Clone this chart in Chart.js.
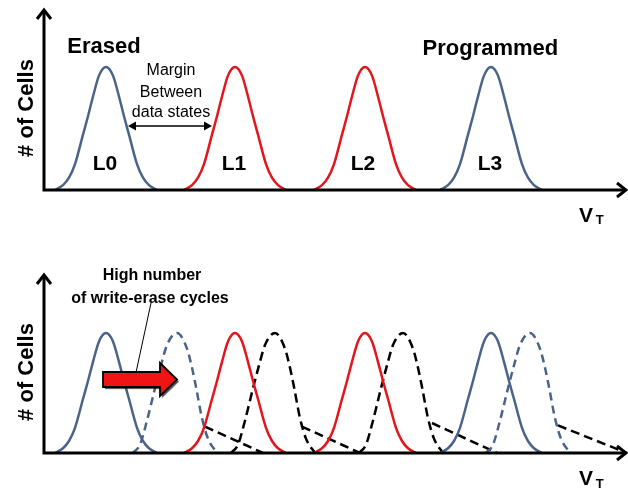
<!DOCTYPE html>
<html>
<head>
<meta charset="utf-8">
<script src="https://cdn.jsdelivr.net/npm/chart.js@4.4.0/dist/chart.umd.min.js"></script>
<style>
  html, body { margin: 0; padding: 0; background: #fff; }
  #wrap { position: relative; width: 628px; height: 489px; }
  canvas { position: absolute; left: 0; }
  #top { top: 0; }
  #bottom { top: 240px; }
</style>
</head>
<body>
<div id="wrap">
  <canvas id="top" width="628" height="240"></canvas>
  <canvas id="bottom" width="628" height="249"></canvas>
</div>
<script>
// V_T in arbitrary units (0..146), # of cells: peak = 100
const levelY = [0, 4, 10, 21, 45, 60, 76, 93, 100, 93, 76, 60, 45, 21, 10, 4, 0];
const l0X = [2.75, 4.75, 6.25, 7.75, 9.75, 11, 12.25, 13.75, 15.5, 17.25, 18.75, 20, 21.25, 23.25, 24.75, 26.25, 28.25];
const l1X = [35, 37, 38.5, 40, 42, 43.25, 44.5, 46, 47.75, 49.5, 51, 52.25, 53.5, 55.5, 57, 58.5, 60.5];
const l2X = [67.5, 69.5, 71, 72.5, 74.5, 75.75, 77, 78.5, 80.25, 82, 83.5, 84.75, 86, 88, 89.5, 91, 93];
const l3X = [99, 101, 102.5, 104, 106, 107.25, 108.5, 110, 111.75, 113.5, 115, 116.25, 117.5, 119.5, 121, 122.5, 124.5];

// shifted after many write-erase cycles
const shiftedY = [0, 7, 27, 54, 73, 90, 100, 87, 71, 55, 29, 12, 0];
const l0sX = [22.25, 24, 25.75, 27.75, 29.25, 30.75, 33.25, 35.75, 37, 38, 39.5, 41, 43.25];
const l1sX = [46.75, 48.5, 50.25, 52.25, 53.75, 55.25, 57.75, 60.25, 61.5, 62.5, 64, 65.5, 67.75];
const l2sX = [78.75, 80.5, 82.25, 84.25, 85.75, 87.25, 89.75, 92.25, 93.5, 94.5, 96, 97.5, 99.75];
const l3sX = [110.5, 112.25, 114, 116, 117.5, 119, 121.5, 124, 125.25, 126.25, 127.75, 129.25, 131.5];

// long tails of the shifted distributions
const tail0X = [40.25, 54.75], tail0Y = [22, 0];
const tail1X = [64.5, 79], tail1Y = [22, 0];
const tail2X = [97, 113.25], tail2Y = [25, 0];
const tail3X = [128.5, 145.75], tail3Y = [23, 0];

const levelNames = ['L0', 'L1', 'L2', 'L3'];
const levelCenters = [15.25, 47.5, 79.75, 111.5];

const BLUE = '#4a6489', RED = '#e3151d', BLACK = '#000';
const FONT = '"Liberation Sans", Arial, sans-serif';

const pts = (xs, ys) => xs.map((x, i) => ({ x, y: ys[i] }));

function curve(xs, ys, color, dash, straight) {
  return {
    data: pts(xs, ys), borderColor: color, borderWidth: 2.5, borderDash: dash || [],
    pointRadius: 0, fill: false, clip: false,
    cubicInterpolationMode: straight ? 'default' : 'monotone', tension: 0
  };
}

function decor(labels, extra) {
  return {
    id: 'decor',
    afterDatasetsDraw(chart) {
      const { ctx, scales: { x, y } } = chart;
      const x0 = x.getPixelForValue(0), y0 = y.getPixelForValue(0);
      const xEnd = x.getPixelForValue(x.max) - 2, yEnd = y.getPixelForValue(y.max) + 2;
      ctx.save();
      ctx.strokeStyle = BLACK; ctx.lineWidth = 3;
      ctx.beginPath();
      ctx.moveTo(x0, y0 + 1.5); ctx.lineTo(x0, yEnd);
      ctx.moveTo(x0 - 1.5, y0); ctx.lineTo(xEnd, y0);
      ctx.stroke();
      ctx.beginPath();
      ctx.moveTo(x0 - 7, yEnd + 9); ctx.lineTo(x0, yEnd); ctx.lineTo(x0 + 7, yEnd + 9);
      ctx.moveTo(xEnd - 9, y0 - 7); ctx.lineTo(xEnd, y0); ctx.lineTo(xEnd - 9, y0 + 7);
      ctx.stroke();

      if (extra) extra(ctx, x, y);

      ctx.fillStyle = BLACK; ctx.textAlign = 'center'; ctx.textBaseline = 'alphabetic';
      labels.forEach(l => {
        ctx.font = l.font;
        const px = x.getPixelForValue(l.x), py = y.getPixelForValue(l.y);
        if (l.rot) {
          ctx.save(); ctx.translate(px, py); ctx.rotate(-Math.PI / 2);
          ctx.fillText(l.t, 0, 0); ctx.restore();
        } else {
          ctx.fillText(l.t, px, py);
        }
      });
      ctx.restore();
    }
  };
}

function makeChart(id, datasets, yMax, padding, labels, extra) {
  return new Chart(document.getElementById(id), {
    type: 'line',
    data: { datasets },
    options: {
      responsive: false, animation: false, devicePixelRatio: 1,
      layout: { padding },
      plugins: { legend: { display: false }, tooltip: { enabled: false } },
      scales: {
        x: { type: 'linear', min: 0, max: 146, display: false },
        y: { min: 0, max: yMax, display: false }
      }
    },
    plugins: [decor(labels, extra)]
  });
}

const bigBold = 'bold 22px ' + FONT;
const levelFont = 'bold 21px ' + FONT;

// top panel
const topLabels = [
  { t: '# of Cells', x: -2.75, y: 66.7, font: bigBold, rot: true },
  { t: 'Erased', x: 15, y: 111.4, font: bigBold },
  { t: 'Programmed', x: 111.6, y: 109.8, font: bigBold },
  { t: 'Margin', x: 31.75, y: 93.5, font: '16px ' + FONT },
  { t: 'Between', x: 31.75, y: 75.6, font: '16px ' + FONT },
  { t: 'data states', x: 31.75, y: 59.3, font: '16px ' + FONT },
  { t: 'V', x: 135.5, y: -26, font: 'bold 21px ' + FONT },
  { t: 'T', x: 138.9, y: -27.6, font: 'bold 13px ' + FONT }
].concat(levelNames.map((n, i) => ({ t: n, x: levelCenters[i], y: 16.3, font: levelFont })));

makeChart('top', [
  curve(l0X, levelY, BLUE), curve(l1X, levelY, RED),
  curve(l2X, levelY, RED), curve(l3X, levelY, BLUE)
], 148, { left: 44, top: 8, right: 0, bottom: 50 }, topLabels, (ctx, x, y) => {
  // margin double arrow
  const a = x.getPixelForValue(21), b = x.getPixelForValue(42), py = y.getPixelForValue(52);
  ctx.lineWidth = 1.5;
  ctx.beginPath(); ctx.moveTo(a + 3, py); ctx.lineTo(b - 3, py); ctx.stroke();
  ctx.fillStyle = BLACK;
  ctx.beginPath(); ctx.moveTo(a, py); ctx.lineTo(a + 8, py - 4.5); ctx.lineTo(a + 8, py + 4.5); ctx.fill();
  ctx.beginPath(); ctx.moveTo(b, py); ctx.lineTo(b - 8, py - 4.5); ctx.lineTo(b - 8, py + 4.5); ctx.fill();
});

// bottom panel
const arrowX = [14.75, 29, 29, 33.25, 29, 29, 14.75];
const arrowY = [67.5, 67.5, 75, 61.25, 47.5, 55, 55];

const bottomLabels = [
  { t: '# of Cells', x: -2.75, y: 67.5, font: bigBold, rot: true },
  { t: 'High number', x: 27, y: 144.2, font: 'bold 16px ' + FONT },
  { t: 'of write-erase cycles', x: 26.5, y: 125, font: 'bold 16px ' + FONT },
  { t: 'V', x: 135.5, y: -26.7, font: 'bold 21px ' + FONT },
  { t: 'T', x: 138.9, y: -29.2, font: 'bold 13px ' + FONT }
];

makeChart('bottom', [
  curve(l0X, levelY, BLUE), curve(l1X, levelY, RED),
  curve(l2X, levelY, RED), curve(l3X, levelY, BLUE),
  curve(l0sX, shiftedY, BLUE, [8, 5]), curve(l1sX, shiftedY, BLACK, [9, 5]),
  curve(l2sX, shiftedY, BLACK, [9, 5]), curve(l3sX, shiftedY, BLUE, [8, 5]),
  curve(tail0X, tail0Y, BLACK, [9, 5], true), curve(tail1X, tail1Y, BLACK, [9, 5], true),
  curve(tail2X, tail2Y, BLACK, [9, 5], true), curve(tail3X, tail3Y, BLACK, [9, 5], true)
], 150, { left: 44, top: 33, right: 0, bottom: 36 }, bottomLabels, (ctx, x, y) => {
  // pointer from the note
  ctx.lineWidth = 1;
  ctx.beginPath();
  ctx.moveTo(x.getPixelForValue(26.75), y.getPixelForValue(125));
  ctx.lineTo(x.getPixelForValue(22.75), y.getPixelForValue(63.3));
  ctx.stroke();
  // red block arrow
  ctx.save();
  ctx.beginPath();
  arrowX.forEach((v, i) => {
    const px = x.getPixelForValue(v), py = y.getPixelForValue(arrowY[i]);
    i ? ctx.lineTo(px, py) : ctx.moveTo(px, py);
  });
  ctx.closePath();
  ctx.shadowColor = 'rgba(0,0,0,0.7)'; ctx.shadowOffsetX = 2; ctx.shadowOffsetY = 2; ctx.shadowBlur = 1;
  ctx.fillStyle = '#f01414'; ctx.fill();
  ctx.shadowColor = 'transparent';
  ctx.lineWidth = 1.8; ctx.lineJoin = 'miter'; ctx.strokeStyle = BLACK; ctx.stroke();
  ctx.restore();
});
</script>
</body>
</html>
